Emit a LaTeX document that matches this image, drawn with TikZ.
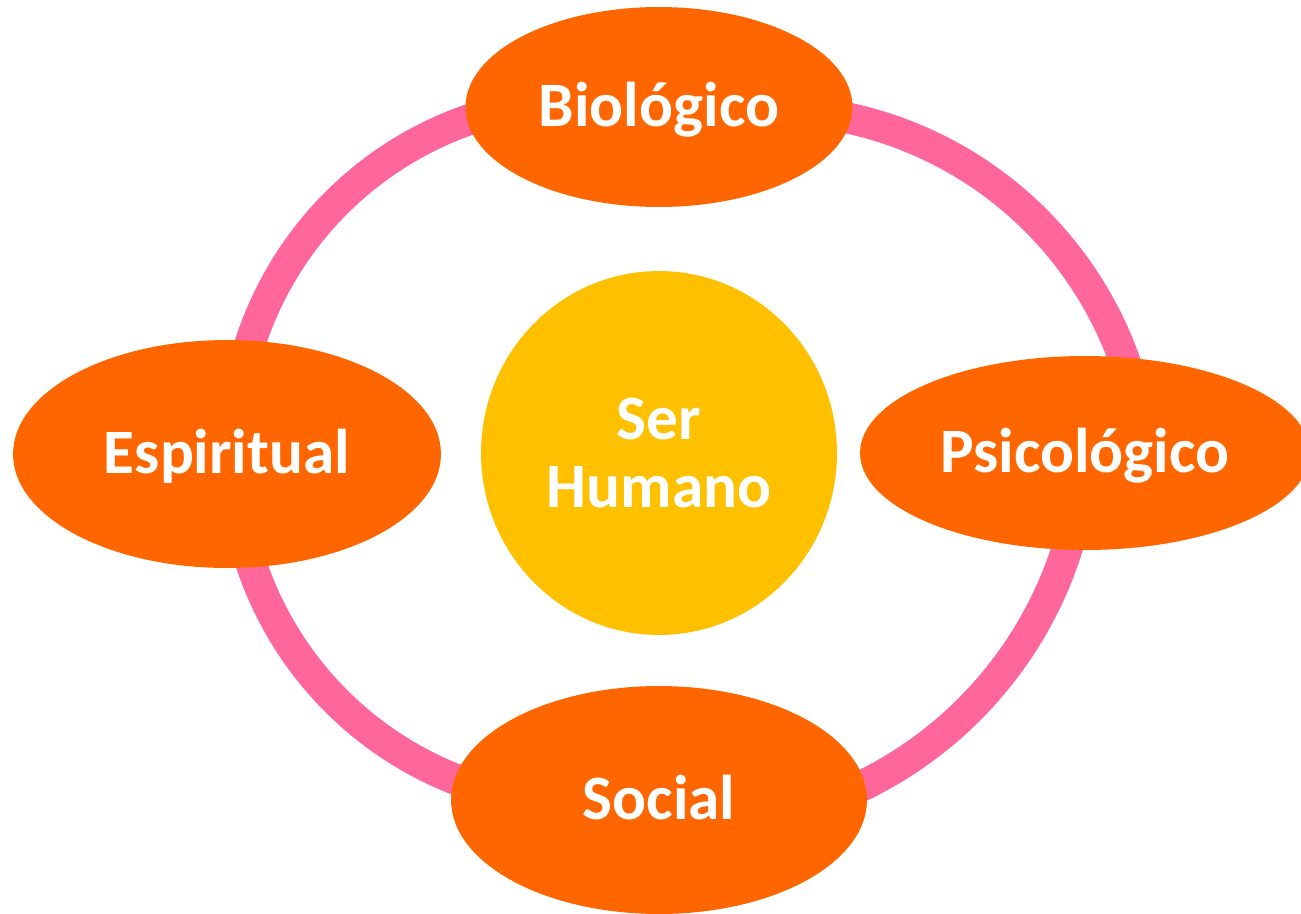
\documentclass[tikz,border=0pt]{standalone}
\usepackage{fontspec}
\setmainfont{Carlito}
\usetikzlibrary{shapes.geometric,backgrounds}
\definecolor{naranja}{RGB}{255,102,0}
\definecolor{rosa}{RGB}{255,102,153}
\definecolor{amarillo}{RGB}{255,192,0}
\tikzset{
  dimension/.style={ellipse,fill=naranja,text=white,inner sep=0pt,
    font=\fontsize{36}{38.5}\selectfont\bfseries,text height=22.7pt,text depth=0pt},
  anillo/.style={rosa,line width=0.62cm},
}

\begin{document}
\begin{tikzpicture}[x=0.02cm,y=-0.02cm]
  \useasboundingbox (0,0) rectangle (1301,913);

  % dimensiones
  \node[dimension,minimum width=7.74cm,minimum height=4cm] (bio) at (659,107) {Biológico};
  \node[dimension,minimum width=8.56cm,minimum height=4.56cm] (esp) at (227,454) {Espiritual};
  \node[dimension,minimum width=9cm,minimum height=3.88cm] (psi) at (1085,453) {Psicológico};
  \node[dimension,minimum width=8.32cm,minimum height=4.56cm] (soc) at (659,800) {Social};

  % centro
  \node[dimension,fill=amarillo,align=center,text height=,text depth=,
    minimum width=7.12cm,minimum height=7.28cm] (ser) at (659,453) {Ser\\Humano};

  % anillo detras de las elipses
  \begin{scope}[on background layer]
    \draw[anillo] (esp.center) ++(6,-2) arc[start angle=180,end angle=282,radius=352];
    \draw[anillo] (esp.center) ++(6,-2) arc[start angle=180,end angle=78,radius=352];
    \draw[anillo] (bio.center) ++(-2,19) arc[start angle=253,end angle=355,radius=379];
    \draw[anillo] (psi.center) arc[start angle=3.6,end angle=94,radius=398];
  \end{scope}
\end{tikzpicture}
\end{document}
